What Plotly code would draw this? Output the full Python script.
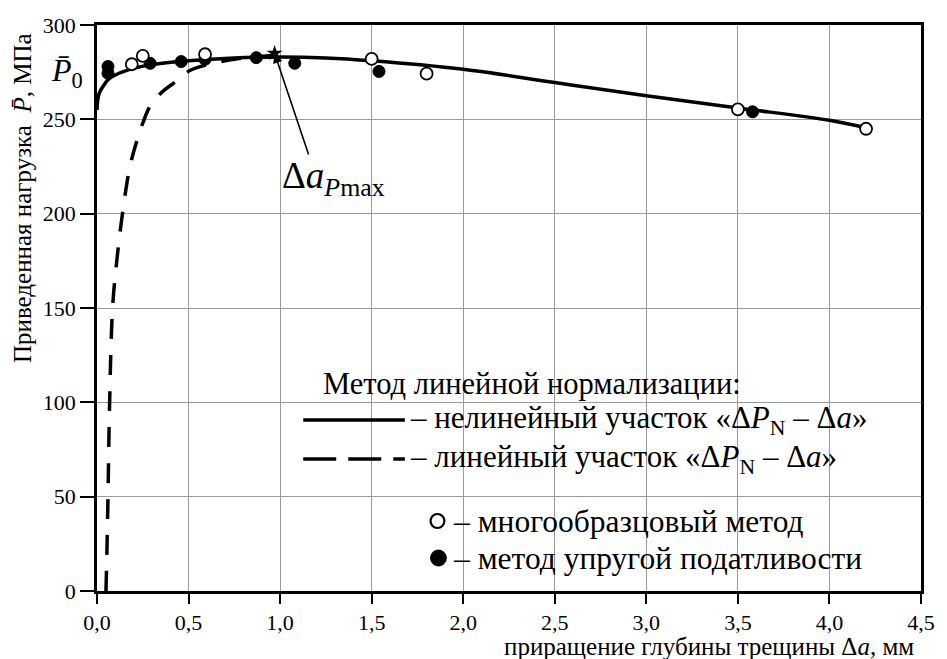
import plotly.graph_objects as go

# ---------------- data ----------------
solid_x = [0, 0.005, 0.015, 0.03, 0.06, 0.1, 0.2, 0.3, 0.5, 0.75, 1.0, 1.25, 1.5, 2.0, 2.5, 3.0, 3.5, 4.0, 4.2]
solid_y = [255, 261, 264.5, 267, 271, 273.5, 277, 279, 281, 282.5, 283, 282.5, 281, 276.5, 269.5, 262.5, 256, 249.5, 245.5]

dash_x = [0.049, 0.055, 0.06, 0.069, 0.085, 0.108, 0.139, 0.18, 0.222, 0.25, 0.29, 0.35, 0.43, 0.51, 0.65, 0.8, 0.98]
dash_y = [0, 25, 50, 100, 150, 175, 200, 225, 240, 248, 257, 264, 270, 276, 280, 282.5, 284]

open_x = [0.19, 0.25, 0.59, 1.50, 1.80, 3.50, 4.20]
open_y = [279.2, 283.6, 284.5, 282, 274.2, 255.3, 245]

filled_x = [0.06, 0.06, 0.29, 0.46, 0.59, 0.87, 1.08, 1.54, 3.58]
filled_y = [278, 274.4, 279.7, 280.6, 281.8, 282.7, 279.7, 275.4, 254]

pmax_x = [0.97]
pmax_y = [285]

x_ticks = [0, 0.5, 1.0, 1.5, 2.0, 2.5, 3.0, 3.5, 4.0, 4.5]
x_ticktext = ["0,0", "0,5", "1,0", "1,5", "2,0", "2,5", "3,0", "3,5", "4,0", "4,5"]
y_ticks = [0, 50, 100, 150, 200, 250, 300]

FONT = "Liberation Serif, Times New Roman, Tinos, serif"
W, H = 947, 659
L, R, T, B = 97, 15, 25, 68


def px(x):
    return (x - L) / (W - L - R)


def py(y):
    return (H - B - y) / (H - T - B)


fig = go.Figure()

fig.add_trace(go.Scatter(x=dash_x, y=dash_y, mode="lines", line=dict(color="black", width=3.5, dash="20px,16px", shape="spline"),
                         showlegend=False, hoverinfo="skip"))
fig.add_trace(go.Scatter(x=solid_x, y=solid_y, mode="lines", line=dict(color="black", width=3.5, shape="spline"),
                         showlegend=False, hoverinfo="skip"))
fig.add_trace(go.Scatter(x=filled_x, y=filled_y, mode="markers",
                         marker=dict(symbol="circle", size=12, color="black", line=dict(color="black", width=1)),
                         showlegend=False))
fig.add_trace(go.Scatter(x=open_x, y=open_y, mode="markers",
                         marker=dict(symbol="circle", size=12, color="white", line=dict(color="black", width=1.8)),
                         showlegend=False))
fig.add_trace(go.Scatter(x=pmax_x, y=pmax_y, mode="markers",
                         marker=dict(symbol="star", size=12, color="black"),
                         showlegend=False))

shapes = []
# white legend backgrounds (cover gridlines)
for (x0, y0, x1, y1) in [(324, 362, 905, 406), (300, 404, 910, 478), (392, 490, 910, 577)]:
    shapes.append(dict(type="rect", xref="paper", yref="paper", x0=px(x0), x1=px(x1), y0=py(y1), y1=py(y0),
                       fillcolor="white", line=dict(width=0), layer="between"))
# legend line samples
ROW1, ROW2, ROW3, ROW4, TITLE = 420, 459, 521, 558, 384
shapes.append(dict(type="line", xref="paper", yref="paper", x0=px(306), x1=px(409), y0=py(ROW1), y1=py(ROW1),
                   line=dict(color="black", width=3.5), layer="above"))
shapes.append(dict(type="line", xref="paper", yref="paper", x0=px(306), x1=px(409), y0=py(ROW2), y1=py(ROW2),
                   line=dict(color="black", width=3.5, dash="33px,12px"), layer="above"))
# legend markers
r = 7
shapes.append(dict(type="circle", xref="paper", yref="paper", x0=px(442 - r), x1=px(442 + r), y0=py(ROW3 + r), y1=py(ROW3 - r),
                   fillcolor="white", line=dict(color="black", width=2.2), layer="above"))
shapes.append(dict(type="circle", xref="paper", yref="paper", x0=px(443 - 8), x1=px(443 + 8), y0=py(ROW4 + 8), y1=py(ROW4 - 8),
                   fillcolor="black", line=dict(color="black", width=1), layer="above"))

annotations = []
LF = 31
annotations.append(dict(xref="paper", yref="paper", x=px(324), y=py(TITLE), xanchor="left", yanchor="middle",
                        text="Метод линейной нормализации:", showarrow=False, font=dict(family=FONT, size=30.5, color="black")))
annotations.append(dict(xref="paper", yref="paper", x=px(412), y=py(ROW1), xanchor="left", yanchor="middle",
                        text="– нелинейный участок «Δ<i>P</i><sub>N</sub> – Δ<i>a</i>»", showarrow=False,
                        font=dict(family=FONT, size=LF, color="black")))
annotations.append(dict(xref="paper", yref="paper", x=px(412), y=py(ROW2), xanchor="left", yanchor="middle",
                        text="– линейный участок «Δ<i>P</i><sub>N</sub> – Δ<i>a</i>»", showarrow=False,
                        font=dict(family=FONT, size=LF, color="black")))
annotations.append(dict(xref="paper", yref="paper", x=px(456), y=py(ROW3), xanchor="left", yanchor="middle",
                        text="– многообразцовый метод", showarrow=False, font=dict(family=FONT, size=LF + 0.5, color="black")))
annotations.append(dict(xref="paper", yref="paper", x=px(456), y=py(ROW4), xanchor="left", yanchor="middle",
                        text="– метод упругой податливости", showarrow=False, font=dict(family=FONT, size=LF + 0.5, color="black")))
# arrow to Δa_Pmax
annotations.append(dict(xref="x", yref="y", x=pmax_x[0], y=pmax_y[0], axref="x", ayref="y", ax=1.16, ay=230,
                        text=" ", showarrow=True, arrowhead=2, arrowsize=1.2, arrowwidth=1.6, arrowcolor="black",
                        font=dict(size=2)))
annotations.append(dict(xref="x", yref="y", x=1.0, y=232, xanchor="left", yanchor="top",
                        text="Δ<i>a</i><sub><i>P</i>max</sub>", showarrow=False,
                        font=dict(family=FONT, size=37, color="black")))
# P0 label near y axis
annotations.append(dict(xref="paper", yref="paper", x=px(85), y=py(72), xanchor="right", yanchor="middle",
                        text="<i>P\u0304</i><sub>0</sub>", showarrow=False, font=dict(family=FONT, size=32, color="black")))
# y-axis title
annotations.append(dict(xref="paper", yref="paper", x=px(22), y=py(198), xanchor="center", yanchor="middle",
                        textangle=-90, text="Приведенная нагрузка  <i>P\u0304</i>, МПа", showarrow=False,
                        font=dict(family=FONT, size=25, color="black")))
# x-axis title
annotations.append(dict(xref="paper", yref="paper", x=px(927), y=py(646), xanchor="right", yanchor="middle",
                        text="приращение глубины трещины Δ<i>a</i>, мм", showarrow=False,
                        font=dict(family=FONT, size=25, color="black")))

fig.update_layout(
    width=W, height=H,
    margin=dict(l=L, r=R, t=T, b=B),
    paper_bgcolor="white", plot_bgcolor="white",
    showlegend=False,
    shapes=shapes, annotations=annotations,
    font=dict(family=FONT, color="black"),
)
fig.update_xaxes(range=[0, 4.5], tickvals=x_ticks, ticktext=x_ticktext, ticks="outside", ticklen=10, tickwidth=2,
                 tickcolor="black", showline=True, linecolor="black", linewidth=2.5, mirror=True,
                 showgrid=True, gridcolor="#9a9a9a", gridwidth=1, zeroline=False,
                 tickfont=dict(family=FONT, size=22, color="black"))
fig.update_yaxes(range=[0, 300], tickvals=y_ticks, ticks="outside", ticklen=14, tickwidth=2,
                 tickcolor="black", showline=True, linecolor="black", linewidth=2.5, mirror=True,
                 showgrid=True, gridcolor="#9a9a9a", gridwidth=1, zeroline=False,
                 tickfont=dict(family=FONT, size=22, color="black"))

fig.write_html("out.html")
